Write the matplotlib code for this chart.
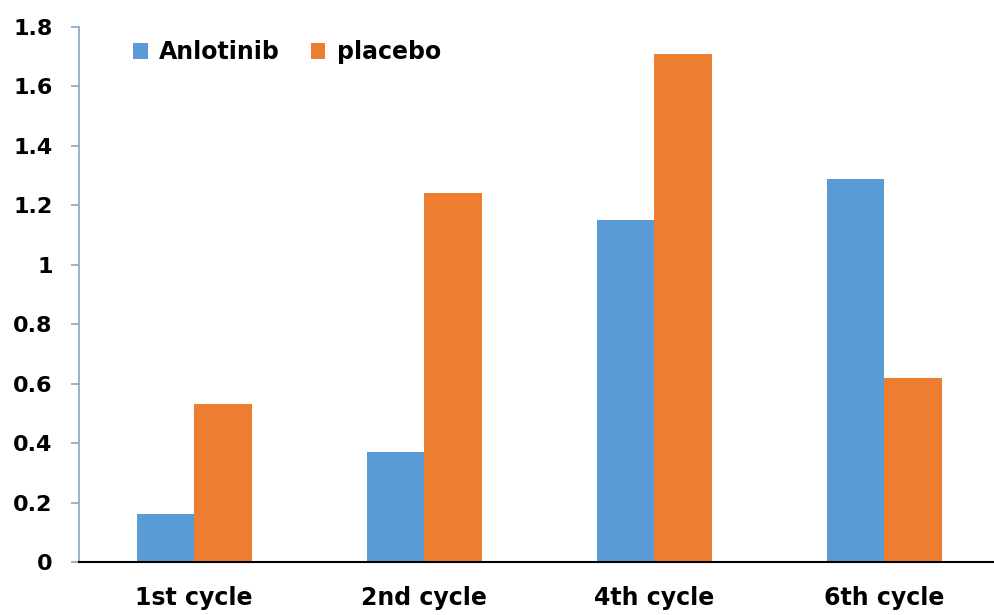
import matplotlib.pyplot as plt
import numpy as np

plt.rcParams['font.family'] = ['DejaVu Sans']

cycles = ['1st cycle', '2nd cycle', '4th cycle', '6th cycle']
anlotinib = [0.16, 0.37, 1.15, 1.29]
placebo = [0.53, 1.24, 1.71, 0.62]

blue = '#5B9BD5'
orange = '#ED7D31'

fig = plt.figure(figsize=(9.95, 6.15), dpi=100)
ax = fig.add_axes([79 / 995, 1 - 562 / 615, 920 / 995, (562 - 27) / 615])

x = np.arange(len(cycles))
w = 0.25
ax.bar(x - w / 2, anlotinib, w, color=blue, label='Anlotinib')
ax.bar(x + w / 2, placebo, w, color=orange, label='placebo')

ax.set_xlim(-0.5, 3.5)
ax.set_ylim(0, 1.8)
ax.set_yticks(np.arange(0, 1.81, 0.2))
ax.set_yticklabels(['0', '0.2', '0.4', '0.6', '0.8', '1', '1.2', '1.4', '1.6', '1.8'])
ax.set_xticks(x)
ax.set_xticklabels(cycles)

for s in ['top', 'right']:
    ax.spines[s].set_visible(False)
ax.spines['left'].set_color('#8aa4bd')
ax.spines['left'].set_linewidth(1.2)
ax.spines['bottom'].set_color('black')
ax.spines['bottom'].set_linewidth(1.5)

ax.tick_params(axis='y', length=6, width=1.2, color='#8aa4bd', pad=13,
               labelsize=16)
ax.tick_params(axis='x', length=0, pad=17, labelsize=17)
for lbl in ax.get_xticklabels() + ax.get_yticklabels():
    lbl.set_fontweight('bold')

ax.legend(loc='upper left', bbox_to_anchor=(0.036, 1.015), ncol=2, frameon=False,
          prop={'size': 17, 'weight': 'bold'}, handlelength=0.6,
          handleheight=0.65, handletextpad=0.5, columnspacing=1.3)

fig.savefig('out.png', dpi=100)
